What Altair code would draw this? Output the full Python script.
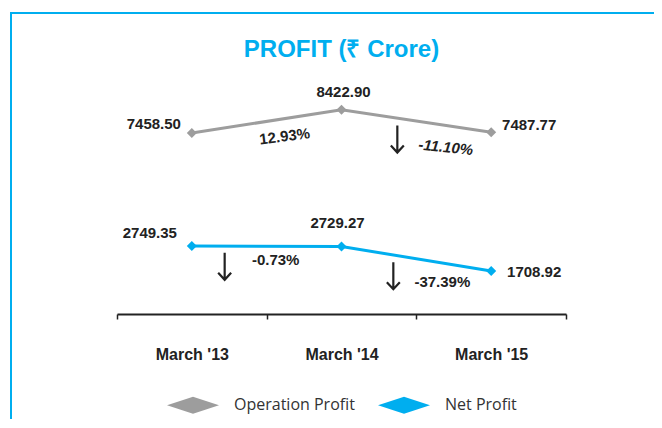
import json
import altair as alt
import pandas as pd

# ---------------- data ----------------
categories = ["March '13", "March '14", "March '15"]
operation_profit = [7458.50, 8422.90, 7487.77]
net_profit = [2749.35, 2729.27, 1708.92]
series_names = ["Operation Profit", "Net Profit"]
series_colors = ["#9D9D9D", "#00AEEF"]
op_changes = ["12.93%", "-11.10%"]
net_changes = ["-0.73%", "-37.39%"]
title_text = "PROFIT (₹ Crore)"

series_values = [operation_profit, net_profit]
series_changes = [op_changes, net_changes]

rows = []
for s, vals in zip(series_names, series_values):
    for i, (c, v) in enumerate(zip(categories, vals)):
        rows.append({"series": s, "idx": i, "cat": c, "value": v, "label": f"{v:.2f}"})
df = pd.DataFrame(rows)

seg_rows = []
for s, vals, chg in zip(series_names, series_values, series_changes):
    for k in range(len(vals) - 1):
        seg_rows.append({"series": s, "seg": k, "pos": k + 0.5,
                         "mid": (vals[k] + vals[k + 1]) / 2, "text": chg[k],
                         "down": chg[k].startswith("-")})
seg_df = pd.DataFrame(seg_rows)

# ---------------- styling ----------------
W, H = 449, 216
TXT = "#222222"
BOLD = "Liberation Sans"

xscale = alt.Scale(domain=[-0.5, 2.5], nice=False, zero=False)
yscale = alt.Scale(domain=[0, 9000], nice=False, zero=False)
xaxis = alt.Axis(
    title=None, values=[-0.5, 0.5, 1.5, 2.5],
    labelExpr=f"{json.dumps(categories)}[round(datum.value + 0.5)] || ''",
    labelOffset=W / 6, labelFlush=False, labelOverlap=False, labelBound=False,
    labelFont=BOLD, labelFontSize=16, labelFontWeight="bold", labelColor=TXT,
    labelPadding=27, tickSize=5, tickWidth=1.5, tickColor=TXT,
    domainColor=TXT, domainWidth=2, offset=2, grid=False,
)
x_main = alt.X("idx:Q", scale=xscale, axis=xaxis)
x_seg = alt.X("pos:Q", scale=xscale, axis=xaxis)
y_main = alt.Y("value:Q", scale=yscale, axis=None)
y_seg = alt.Y("mid:Q", scale=yscale, axis=None)
legend = alt.Legend(
    title=None, orient="none", legendX=50, legendY=283, direction="horizontal",
    symbolType="M-1,0L0,-0.33L1,0L0,0.33Z", symbolSize=2704, symbolStrokeWidth=0,
    symbolOpacity=1, labelFont="Open Sans", labelFontSize=16, labelColor="#333333",
    labelOffset=15, columnPadding=23, padding=0,
)
color_enc = alt.Color("series:N", scale=alt.Scale(domain=series_names, range=series_colors),
                      legend=legend)

base = alt.Chart(df)

frame = alt.Chart(pd.DataFrame({"f": [0]})).mark_rect(
    fillOpacity=0, stroke="#00AEEF", strokeWidth=2
).encode(x=alt.value(-106), x2=alt.value(700), y=alt.value(-83), y2=alt.value(600))

title = alt.Chart(pd.DataFrame({"t": [title_text]})).mark_text(
    font=BOLD, fontSize=24, fontWeight="bold", color="#00AEEF",
    align="center", baseline="alphabetic"
).encode(x=alt.value(W / 2), y=alt.value(-39), text="t:N")

lines = base.mark_line(strokeWidth=3).encode(x=x_main, y=y_main, color=color_enc)

points = base.mark_point(shape="diamond", filled=True, size=100, opacity=1).encode(
    x=x_main, y=y_main, color=color_enc)

value_label_offsets = [[(-38, -9), (2, -18), (38, -7)], [(-42, -13), (-4, -23), (43, 1)]]
value_labels = []
for si, s in enumerate(series_names):
    for i in range(len(categories)):
        dx, dy = value_label_offsets[si][i]
        value_labels.append(
            base.transform_filter(f"datum.series == '{s}' && datum.idx == {i}")
            .mark_text(font=BOLD, fontSize=15, fontWeight="bold", color=TXT,
                       dx=dx, dy=dy, baseline="middle")
            .encode(x=x_main, y=y_main, text="label:N")
        )

change_styles = [[(16, 17, 353, "normal"), (32, 23, 6, "italic")],
                 [(9, 14, 0, "normal"), (26, 23, 0, "normal")]]
arrow_offsets = [[None, (-19, 18)], [(-42, 20), (-23, 17)]]
ARROW = "M0,-1L0,1M-0.48,0.48L0,1L0.48,0.48"
seg_base = alt.Chart(seg_df)
change_labels = []
arrows = []
for si, s in enumerate(series_names):
    for k in range(len(categories) - 1):
        dx, dy, ang, sty = change_styles[si][k]
        flt = f"datum.series == '{s}' && datum.seg == {k}"
        change_labels.append(
            seg_base.transform_filter(flt)
            .mark_text(font=BOLD, fontSize=15, fontWeight="bold", fontStyle=sty, color=TXT,
                       dx=dx, dy=dy, angle=ang, baseline="middle")
            .encode(x=x_seg, y=y_seg, text="text:N")
        )
        off = arrow_offsets[si][k]
        if off is not None:
            arrows.append(
                seg_base.transform_filter(flt + " && datum.down")
                .mark_point(shape=ARROW, filled=False, stroke=TXT, strokeWidth=2.2,
                            size=729, opacity=1, xOffset=off[0], yOffset=off[1])
                .encode(x=x_seg, y=y_seg)
            )

chart = alt.layer(frame, title, lines, points, *value_labels, *change_labels, *arrows).properties(
    width=W, height=H,
    background="white",
    autosize=alt.AutoSizeParams(type="none"),
    padding={"left": 109, "top": 88, "right": 88, "bottom": 107},
).configure_view(strokeWidth=0, stroke="transparent")

chart.save("out.html", embed_options={"renderer": "svg", "actions": False})
